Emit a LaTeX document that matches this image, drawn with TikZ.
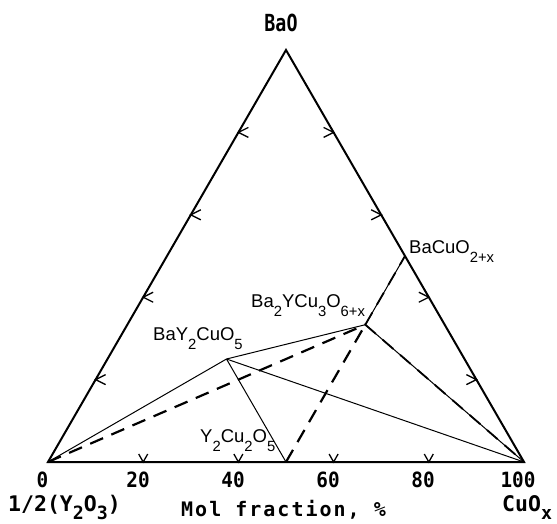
\documentclass[tikz,border=0pt]{standalone}
\usepackage{fontspec}
\usepackage{graphicx}
\setmainfont{Liberation Sans}
\newfontfamily\bmono{DejaVu Sans Mono}[FakeStretch=0.92]
\newfontfamily\bmonof{DejaVu Sans Mono}
\newfontfamily\bmonon{DejaVu Sans Mono}[FakeStretch=0.78]
\newfontfamily\bmonowide{DejaVu Sans Mono}[LetterSpace=10]
\usetikzlibrary{calc}
\newcommand\chsub[1]{\raisebox{-0.5em}{\scalebox{0.8}{#1}}}
\newcommand\bsub[1]{\raisebox{-0.4em}{\scalebox{0.85}{#1}}}
\tikzset{
  edgeline/.style={line width=2pt,line join=miter},
  thinline/.style={line width=1pt},
  dashline/.style={line width=2.2pt,dash pattern=on 14pt off 9pt},
  mixline/.style={line width=1.8pt,dash pattern=on 14pt off 9pt},
  tickmark/.style={line width=1.3pt},
  chem/.style={inner sep=0pt,anchor=base west,font=\fontsize{18.5}{18.5}\selectfont},
  blab/.style={inner sep=0pt,anchor=base,font=\bmono\bfseries\fontsize{21}{21}\selectfont},
  blabw/.style={inner sep=0pt,anchor=base west,font=\bmonof\bfseries\fontsize{21.5}{21.5}\selectfont}
}
\begin{document}
\begin{tikzpicture}[x=1pt,y=-1pt]
\useasboundingbox (0,0) rectangle (557,523);
\coordinate (A) at (48,462);
\coordinate (B) at (286,50);
\coordinate (C) at (524,462);
\coordinate (P1) at (226.5,359);
\coordinate (P2) at (365.3,324.7);
\coordinate (P3) at (405,256);
\coordinate (P4) at (286,462);

% thin tie lines
\draw[thinline] (A) -- (P1);
\draw[thinline] (P1) -- (P2);
\draw[thinline] (P1) -- (C);
\draw[thinline] (P1) -- (P4);
\draw[thinline] (P2) -- (C);
\draw[thinline] (P2) -- (P3);
% dashed lines
\draw[dashline] (A) -- (P2);
\draw[dashline] (P4) -- (P2);
\draw[mixline] (P2) -- (C);
\draw[mixline] (P2) -- (P3);

% triangle
\draw[edgeline] (A) -- (B) -- (C) -- cycle;

% ticks
\foreach \t in {0.2,0.4,0.6,0.8}{
  \draw[tickmark] ($(A)!\t!(B)+(10,-5)$) -- ($(A)!\t!(B)$) -- ++(10,5);
  \draw[tickmark] ($(B)!\t!(C)+(-10,-5)$) -- ($(B)!\t!(C)$) -- ++(-10,5);
  \draw[tickmark] ($(A)!\t!(C)+(-4.5,-8)$) -- ($(A)!\t!(C)$) -- ++(4.5,-8);
}

% labels
\node[blab,font=\bmonon\bfseries\fontsize{23.5}{23.5}\selectfont] (lBaO) at (281,31) {BaO};
\node[blab] (l0) at (42.5,487) {0};
\node[blab] (l20) at (138,487) {20};
\node[blab] (l40) at (233,487) {40};
\node[blab] (l60) at (328,487) {60};
\node[blab] (l80) at (423,487) {80};
\node[blab] (l100) at (518,487) {100};
\node[blabw] (lY) at (8,511) {1/2(Y\bsub{2}O\bsub{3})};
\node[blabw] (lCu) at (502,511) {CuO\bsub{x}};
\node[inner sep=0pt,anchor=base west,font=\bmonowide\bfseries\fontsize{20}{20}\selectfont] (lmol) at (181,516) {Mol fraction, \%};

\node[chem] (n1) at (153,340) {BaY\chsub{2}CuO\chsub{5}};
\node[chem] (n2) at (251,307) {Ba\chsub{2}YCu\chsub{3}O\chsub{6+x}};
\node[chem] (n3) at (409,253) {BaCuO\chsub{2+x}};
\node[chem] (n4) at (200,442) {Y\chsub{2}Cu\chsub{2}O\chsub{5}};
\end{tikzpicture}
\end{document}
